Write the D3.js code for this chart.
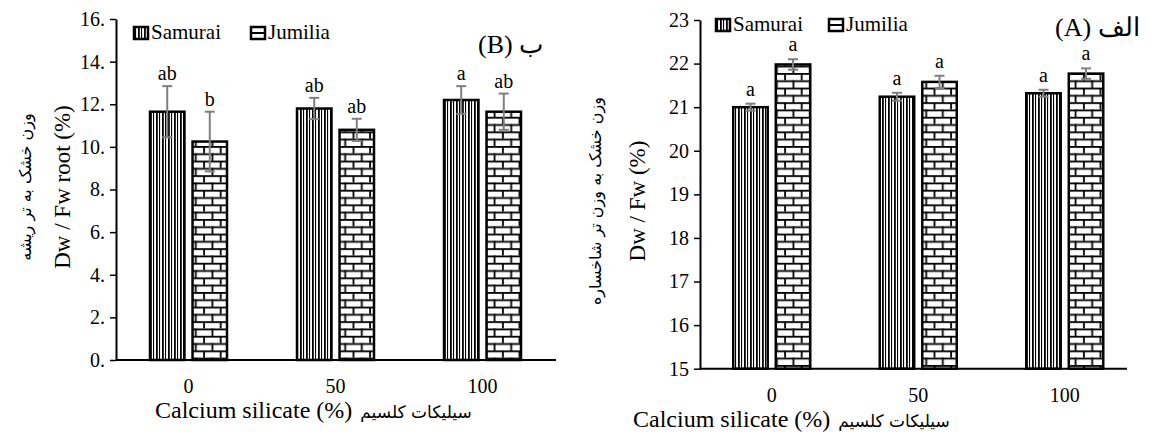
<!DOCTYPE html>
<html>
<head>
<meta charset="utf-8">
<script src="https://cdn.jsdelivr.net/npm/d3@7"></script>
<style>
  body { margin: 0; background: #fff; }
</style>
</head>
<body>
<div id="chart"></div>
<script>
// categories and groups
let categories = ["0", "50", "100"];
let varieties = ["Samurai", "Jumilia"];

// (B) root dry/fresh weight
let rootSamurai = [11.65, 11.8, 12.2];
let rootSamuraiErr = [1.2, 0.5, 0.65];
let rootSamuraiLetters = ["ab", "ab", "a"];
let rootJumilia = [10.25, 10.8, 11.65];
let rootJumiliaErr = [1.4, 0.52, 0.85];
let rootJumiliaLetters = ["b", "ab", "ab"];
let rootTicks = [0, 2, 4, 6, 8, 10, 12, 14, 16];

// (A) shoot dry/fresh weight
let shootSamurai = [21.0, 21.24, 21.32];
let shootSamuraiErr = [0.08, 0.09, 0.08];
let shootSamuraiLetters = ["a", "a", "a"];
let shootJumilia = [21.98, 21.58, 21.77];
let shootJumiliaErr = [0.12, 0.14, 0.12];
let shootJumiliaLetters = ["a", "a", "a"];
let shootTicks = [15, 16, 17, 18, 19, 20, 21, 22, 23];

let SERIF = "'Liberation Serif', 'Times New Roman', serif";
let FA = "'DejaVu Sans', sans-serif";

let svg = d3.select("#chart")
  .append("svg")
  .attr("width", 1156)
  .attr("height", 443)
  .style("font-family", SERIF);

// patterns: vertical stripes and bricks
let defs = svg.append("defs");
let stripes = defs.append("pattern")
  .attr("id", "stripes")
  .attr("patternUnits", "userSpaceOnUse")
  .attr("width", 6).attr("height", 10);
stripes.append("rect").attr("width", 6).attr("height", 10).attr("fill", "#fff");
stripes.append("rect").attr("x", 0).attr("width", 1.8).attr("height", 10).attr("fill", "#000");
stripes.append("rect").attr("x", 3).attr("width", 1.1).attr("height", 10).attr("fill", "#000");

let bricks = defs.append("pattern")
  .attr("id", "bricks")
  .attr("patternUnits", "userSpaceOnUse")
  .attr("width", 16.6).attr("height", 14.6);
bricks.append("rect").attr("width", 16.6).attr("height", 14.6).attr("fill", "#fff");
bricks.append("rect").attr("y", 0).attr("width", 16.6).attr("height", 1.8).attr("fill", "#000");
bricks.append("rect").attr("y", 7.3).attr("width", 16.6).attr("height", 1.8).attr("fill", "#000");
bricks.append("rect").attr("x", 4).attr("y", 0).attr("width", 1.8).attr("height", 7.3).attr("fill", "#000");
bricks.append("rect").attr("x", 12.3).attr("y", 7.3).attr("width", 1.8).attr("height", 7.3).attr("fill", "#000");

let fills = { Samurai: "url(#stripes)", Jumilia: "url(#bricks)" };

function drawChart(opt) {
  let g = svg.append("g");

  let x = d3.scaleBand()
    .domain(categories)
    .range(opt.xRange);

  let xInner = d3.scaleBand()
    .domain(varieties)
    .range([-38.5, 38.5])
    .paddingInner(0.19);

  let y = d3.scaleLinear()
    .domain(opt.yDomain)
    .range(opt.yRange);

  // y axis
  let yAxis = g.append("g")
    .attr("transform", `translate(${opt.axisX}, 0)`)
    .call(d3.axisLeft(y).tickValues(opt.ticks).tickFormat(opt.fmt).tickSize(6).tickPadding(5).tickSizeOuter(0));
  yAxis.attr("font-family", null);
  yAxis.select(".domain").attr("stroke-width", 2);
  yAxis.selectAll(".tick line").attr("stroke-width", 1.5);
  yAxis.selectAll("text")
    .style("font-family", SERIF)
    .style("font-size", "20px")
    .attr("fill", "#000");

  // x axis (no tick marks)
  let xAxis = g.append("g")
    .attr("transform", `translate(0, ${opt.yRange[0]})`)
    .call(d3.axisBottom(x).tickSize(0).tickPadding(19));
  xAxis.attr("font-family", null);
  xAxis.select(".domain").remove();
  xAxis.selectAll("text")
    .style("font-family", SERIF)
    .style("font-size", "20px")
    .attr("fill", "#000");

  // bars
  let rows = [];
  categories.forEach((c, i) => {
    varieties.forEach(v => {
      rows.push({ cat: c, variety: v, value: opt.values[v][i], err: opt.errs[v][i], letter: opt.letters[v][i] });
    });
  });

  g.selectAll("rect.bar")
    .data(rows)
    .enter()
    .append("rect")
    .attr("class", "bar")
    .attr("x", d => x(d.cat) + x.bandwidth() / 2 + xInner(d.variety))
    .attr("y", d => y(d.value))
    .attr("width", xInner.bandwidth())
    .attr("height", d => y(opt.yDomain[0]) - y(d.value))
    .attr("fill", d => fills[d.variety])
    .attr("stroke", "#000")
    .attr("stroke-width", 2.5);

  g.append("line")
    .attr("x1", opt.axisX).attr("x2", opt.axisEnd)
    .attr("y1", opt.yRange[0]).attr("y2", opt.yRange[0])
    .attr("stroke", "#000").attr("stroke-width", 2);

  // error bars
  let cx = d => x(d.cat) + x.bandwidth() / 2 + xInner(d.variety) + xInner.bandwidth() / 2;
  let eb = g.selectAll("g.err")
    .data(rows)
    .enter()
    .append("g")
    .attr("stroke", "#7f7f7f")
    .attr("stroke-width", 2);
  eb.append("line")
    .attr("x1", cx).attr("x2", cx)
    .attr("y1", d => y(d.value - d.err)).attr("y2", d => y(d.value + d.err));
  eb.append("line")
    .attr("x1", d => cx(d) - 5).attr("x2", d => cx(d) + 5)
    .attr("y1", d => y(d.value + d.err)).attr("y2", d => y(d.value + d.err));
  eb.append("line")
    .attr("x1", d => cx(d) - 5).attr("x2", d => cx(d) + 5)
    .attr("y1", d => y(d.value - d.err)).attr("y2", d => y(d.value - d.err));

  // significance letters
  g.selectAll("text.letter")
    .data(rows)
    .enter()
    .append("text")
    .attr("x", cx)
    .attr("y", d => y(d.value + d.err) - opt.letterGap)
    .attr("text-anchor", "middle")
    .style("font-family", SERIF)
    .style("font-size", "20px")
    .text(d => d.letter);

  // legend
  let leg = g.append("g");
  varieties.forEach((v, i) => {
    let lx = opt.legendX[i];
    leg.append("rect")
      .attr("x", lx).attr("y", opt.legendY - 12)
      .attr("width", 14).attr("height", 12)
      .attr("fill", v === "Samurai" ? "url(#stripes)" : "#fff")
      .attr("stroke", "#000").attr("stroke-width", 2.5);
    if (v === "Jumilia") {
      leg.append("line")
        .attr("x1", lx).attr("x2", lx + 14)
        .attr("y1", opt.legendY - 6).attr("y2", opt.legendY - 6)
        .attr("stroke", "#000").attr("stroke-width", 2);
    }
    leg.append("text")
      .attr("x", lx + 17).attr("y", opt.legendY)
      .style("font-family", SERIF)
      .style("font-size", "21px")
      .text(v);
  });

  // title
  g.append("text")
    .attr("x", opt.titleX).attr("y", opt.titleY)
    .style("font-family", SERIF)
    .style("font-size", "26px")
    .text(opt.title);

  // axis labels
  g.append("text")
    .attr("transform", `translate(${opt.yLabelX}, ${opt.yLabelY}) rotate(-90)`)
    .attr("text-anchor", "middle")
    .style("font-family", SERIF)
    .style("font-size", "23px")
    .text(opt.yLabel);

  g.append("text")
    .attr("transform", `translate(${opt.faLabelX}, ${opt.yLabelY}) rotate(-90)`)
    .attr("text-anchor", "middle")
    .style("font-family", FA)
    .style("font-size", "16px")
    .text(opt.yLabelFa);

  let xl = g.append("text")
    .attr("x", opt.xLabelX)
    .attr("y", opt.yRange[0] + 58);
  xl.append("tspan").style("font-family", SERIF).style("font-size", "24px").text("Calcium silicate (%)");
  xl.append("tspan").attr("dx", 8).style("font-family", FA).style("font-size", "17px").text("سیلیکات کلسیم");
}

drawChart({
  xRange: [115, 556],
  axisX: 116,
  axisEnd: 556,
  yDomain: [0, 16],
  yRange: [360, 19],
  ticks: rootTicks,
  fmt: d => d + ".",
  values: { Samurai: rootSamurai, Jumilia: rootJumilia },
  errs: { Samurai: rootSamuraiErr, Jumilia: rootJumiliaErr },
  letters: { Samurai: rootSamuraiLetters, Jumilia: rootJumiliaLetters },
  letterGap: 6,
  legendX: [134, 251],
  legendY: 39,
  title: "(B) ب",
  titleX: 478,
  titleY: 53,
  yLabel: "Dw / Fw root (%)",
  yLabelFa: "وزن خشک به تر ریشه",
  yLabelX: 70,
  yLabelY: 187,
  faLabelX: 31,
  xLabelX: 155
});

drawChart({
  xRange: [698.5, 1138],
  axisX: 700,
  axisEnd: 1127,
  yDomain: [15, 23],
  yRange: [368.7, 20],
  ticks: shootTicks,
  fmt: d => d,
  values: { Samurai: shootSamurai, Jumilia: shootJumilia },
  errs: { Samurai: shootSamuraiErr, Jumilia: shootJumiliaErr },
  letters: { Samurai: shootSamuraiLetters, Jumilia: shootJumiliaLetters },
  letterGap: 8,
  legendX: [716, 829],
  legendY: 31,
  title: "(A) الف",
  titleX: 1055,
  titleY: 36,
  yLabel: "Dw / Fw (%)",
  yLabelFa: "وزن خشک به وزن تر شاخساره",
  yLabelX: 645,
  yLabelY: 201,
  faLabelX: 601,
  xLabelX: 633
});
</script>
</body>
</html>
